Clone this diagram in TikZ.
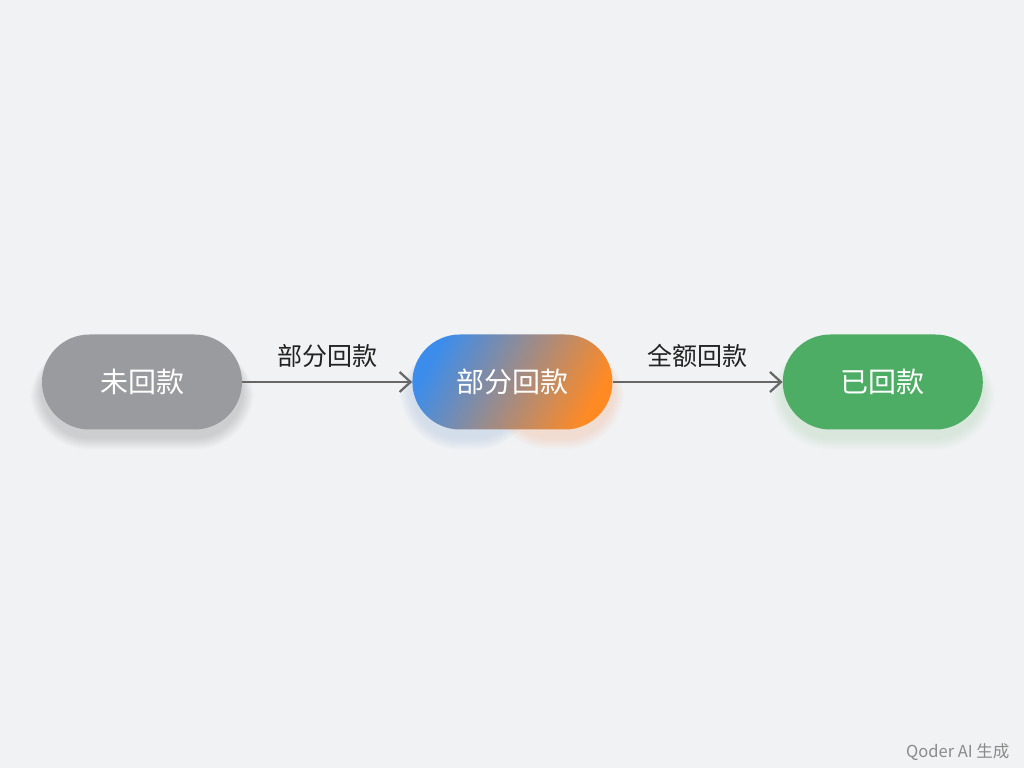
\documentclass[tikz,border=0pt]{standalone}
\usepackage{fontspec}
\setmainfont{Noto Sans CJK SC}
\usetikzlibrary{arrows.meta,positioning,backgrounds}
\definecolor{bgcol}{HTML}{F0F2F4}
\definecolor{pillgray}{HTML}{9A9B9E}
\definecolor{pillblue}{HTML}{3C8DEB}
\definecolor{pillorange}{HTML}{FF8A24}
\definecolor{pillgreen}{HTML}{4DAD64}
\definecolor{flowcol}{HTML}{666666}
\definecolor{labelcol}{HTML}{222222}
\definecolor{markcol}{HTML}{8A8A8A}
\begin{document}
\begin{tikzpicture}[x=1pt,y=1pt,
    pill/.style={rounded corners=47.5pt,minimum width=200pt,minimum height=95pt,
      inner sep=0pt,text=white,font=\fontsize{28}{32}\selectfont},
    flow/.style={draw=flowcol,line width=2.2pt,-{Straight Barb[length=11pt,width=20pt,line width=2.2pt]}},
    flowlabel/.style={text=labelcol,font=\fontsize{25}{30}\selectfont,inner sep=0pt}]
    \useasboundingbox (0,0) rectangle (1024,768);
    % states
    \node[pill,fill=pillgray] (unpaid) at (142,386) {未回款};
    \node[pill,left color=pillblue,right color=pillorange,shading angle=62,
      right=170pt of unpaid] (partial) {部分回款};
    \node[pill,fill=pillgreen,right=170pt of partial] (paid) {已回款};
    % transitions
    \draw[flow] (unpaid) -- (partial) node[flowlabel,midway,above=13pt] {部分回款};
    \draw[flow] (partial) -- (paid) node[flowlabel,midway,above=13pt] {全额回款};
    %
    \node[text=markcol,font=\fontsize{16.5}{20}\selectfont,anchor=east] (mark) at (1013,16) {Qoder AI 生成};
    % page and soft glows
    \begin{pgfonlayer}{background}
      \fill[bgcol] (0,0) rectangle (1024,768);
      \foreach \n/\c/\dx in {unpaid/black/0,partial/pillblue/-45,partial/pillorange/45,paid/pillgreen/0}
        \foreach \k in {1,...,12}
          \fill[\c,opacity=0.011,rounded corners={47.5+\k}]
            ([xshift={\dx-\k+abs(\dx)},yshift={-8-\k}]\n.south west)
            rectangle ([xshift={\dx+\k-abs(\dx)},yshift={-12+0.3*\k}]\n.north east);
    \end{pgfonlayer}
\end{tikzpicture}
\end{document}
